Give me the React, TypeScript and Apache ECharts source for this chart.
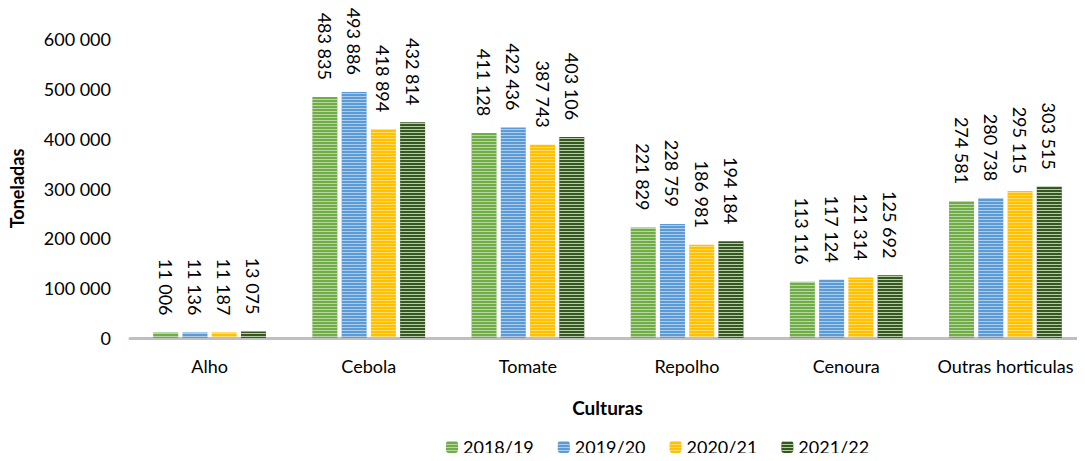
import React, { useEffect, useRef } from "react";
import * as echarts from "echarts";

const categories = ["Alho", "Cebola", "Tomate", "Repolho", "Cenoura", "Outras horticulas"];
const seriesNames = ["2018/19", "2019/20", "2020/21", "2021/22"];
const s2018 = [11006, 483835, 411128, 221829, 113116, 274581];
const s2019 = [11136, 493886, 422436, 228759, 117124, 280738];
const s2020 = [11187, 418894, 387743, 186981, 121314, 295115];
const s2021 = [13075, 432814, 403106, 194184, 125692, 303515];
const colors = ["#70AD47", "#5B9BD5", "#FFC000", "#375623"];
const stripeColors = ["rgba(255,255,255,0.5)", "rgba(255,255,255,0.5)", "rgba(255,255,255,0.45)", "rgba(200,230,185,0.85)"];

const fmt = (v: number) => String(v).replace(/\B(?=(\d{3})+(?!\d))/g, " ");

export default function App() {
  const ref = useRef<HTMLDivElement>(null);
  useEffect(() => {
    const chart = echarts.init(ref.current!, null, { renderer: "svg" });
    const font = "Lato, 'Open Sans', sans-serif";
    const data = [s2018, s2019, s2020, s2021];
    chart.setOption({
      animation: false,
      textStyle: { fontFamily: font },
      grid: { left: 129, right: 0, top: 39, bottom: 123 },
      legend: {
        data: seriesNames,
        bottom: 0,
        left: 441,
        itemWidth: 12,
        itemHeight: 12,
        itemGap: 24,
        textStyle: { fontSize: 18, color: "#000", fontFamily: font },
      },
      xAxis: {
        type: "category",
        data: categories,
        name: "Culturas",
        nameLocation: "middle",
        nameGap: 60,
        nameTextStyle: { fontSize: 19, fontWeight: "bold", color: "#000", fontFamily: font },
        axisLine: { lineStyle: { color: "#BFBFBF", width: 3 } },
        axisTick: { show: false },
        axisLabel: { interval: 0, fontSize: 18, color: "#000", margin: 19, fontFamily: font },
      },
      yAxis: {
        type: "value",
        min: 0,
        max: 600000,
        interval: 100000,
        name: "Toneladas",
        nameLocation: "middle",
        nameGap: 104,
        nameTextStyle: { fontSize: 18, fontWeight: "bold", color: "#000", fontFamily: font },
        splitLine: { show: false },
        axisLine: { show: false },
        axisTick: { show: false },
        axisLabel: { fontSize: 18, color: "#000", margin: 19, formatter: (v: number) => fmt(v), fontFamily: font },
      },
      series: seriesNames.map((name, i) => ({
        name,
        type: "bar",
        data: data[i],
        barWidth: 25,
        barGap: "17%",
        itemStyle: {
          color: colors[i],
          decal: {
            symbol: "rect",
            symbolSize: 1,
            dashArrayX: [1, 0],
            dashArrayY: [1, 2],
            rotation: 0,
            color: stripeColors[i],
          },
        },
        label: {
          show: true,
          position: "top",
          rotate: -90,
          align: "right",
          verticalAlign: "middle",
          distance: 17,
          fontSize: 18,
          color: "#000",
          fontFamily: font,
          formatter: (p: any) => fmt(p.value),
        },
      })),
    });
    return () => chart.dispose();
  }, []);
  return <div ref={ref} style={{ width: 1085, height: 461, margin: -8 }} />;
}
